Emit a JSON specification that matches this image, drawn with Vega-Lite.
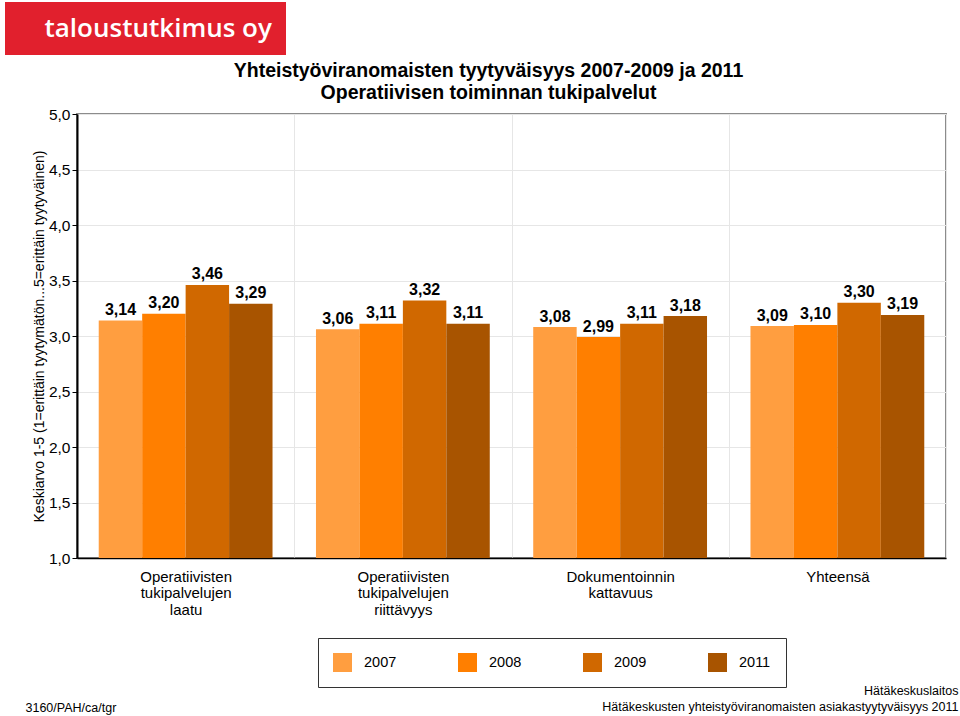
{
  "$schema": "https://vega.github.io/schema/vega-lite/v6.json",
  "background": "white",
  "padding": {"left": 5, "top": 2, "right": 2, "bottom": 2},
  "width": 869,
  "height": 444,
  "config": {
    "font": "Liberation Sans",
    "view": {"stroke": "#8c8c8c", "strokeWidth": 2},
    "locale": {"number": {"decimal": ",", "thousands": " ", "grouping": [3], "currency": ["", " €"]}}
  },
  "title": {
    "text": ["Yhteistyöviranomaisten tyytyväisyys 2007-2009 ja 2011", "Operatiivisen toiminnan tukipalvelut"],
    "fontSize": 19.5, "fontWeight": "bold", "color": "black", "anchor": "middle", "frame": "group", "dx": -23, "offset": -101, "lineHeight": 22
  },
  "data": {"values": [
    {"cat": "Operatiivisten|tukipalvelujen|laatu", "year": "2007", "value": 3.14},
    {"cat": "Operatiivisten|tukipalvelujen|laatu", "year": "2008", "value": 3.20},
    {"cat": "Operatiivisten|tukipalvelujen|laatu", "year": "2009", "value": 3.46},
    {"cat": "Operatiivisten|tukipalvelujen|laatu", "year": "2011", "value": 3.29},
    {"cat": "Operatiivisten|tukipalvelujen|riittävyys", "year": "2007", "value": 3.06},
    {"cat": "Operatiivisten|tukipalvelujen|riittävyys", "year": "2008", "value": 3.11},
    {"cat": "Operatiivisten|tukipalvelujen|riittävyys", "year": "2009", "value": 3.32},
    {"cat": "Operatiivisten|tukipalvelujen|riittävyys", "year": "2011", "value": 3.11},
    {"cat": "Dokumentoinnin|kattavuus", "year": "2007", "value": 3.08},
    {"cat": "Dokumentoinnin|kattavuus", "year": "2008", "value": 2.99},
    {"cat": "Dokumentoinnin|kattavuus", "year": "2009", "value": 3.11},
    {"cat": "Dokumentoinnin|kattavuus", "year": "2011", "value": 3.18},
    {"cat": "Yhteensä", "year": "2007", "value": 3.09},
    {"cat": "Yhteensä", "year": "2008", "value": 3.10},
    {"cat": "Yhteensä", "year": "2009", "value": 3.30},
    {"cat": "Yhteensä", "year": "2011", "value": 3.19}
  ]},
  "encoding": {
    "x": {
      "field": "cat", "type": "nominal", "sort": null,
      "scale": {"paddingInner": 0, "paddingOuter": 0},
      "axis": {
        "title": ["Hätäkeskuslaitos", "Hätäkeskusten yhteistyöviranomaisten asiakastyytyväisyys 2011"],
        "titleFontSize": 12.5, "titleFontWeight": "normal", "titleColor": "black",
        "titleAnchor": "end", "titleAlign": "right", "titleBaseline": "top", "titleLineHeight": 16,
        "titleX": 881, "titleY": 126,
        "labelAngle": 0, "ticks": false, "grid": true, "tickBand": "extent",
        "gridColor": "#e6e6e6", "gridWidth": 1,
        "domainColor": "black", "domainWidth": 1.5,
        "labelExpr": "split(datum.label, '|')",
        "labelFontSize": 15, "labelColor": "black", "labelPadding": 11, "labelLineHeight": 16.7,
        "labelBaseline": "top"
      }
    },
    "xOffset": {"field": "year", "type": "nominal", "scale": {"paddingInner": 0, "paddingOuter": 0.5}},
    "y": {
      "field": "value", "type": "quantitative",
      "scale": {"domain": [1, 5], "zero": false, "nice": false},
      "axis": {
        "title": "Keskiarvo 1-5 (1=erittäin tyytymätön...5=erittäin tyytyväinen)",
        "titleFontSize": 14, "titleFontWeight": "normal", "titleColor": "black", "titlePadding": 2,
        "values": [1, 1.5, 2, 2.5, 3, 3.5, 4, 4.5, 5],
        "format": ".1f",
        "labelFontSize": 15.5, "labelColor": "black", "labelPadding": 2,
        "tickColor": "black", "tickSize": 5, "tickWidth": 1,
        "domainColor": "black", "domainWidth": 2,
        "grid": true, "gridColor": "#e6e6e6", "gridWidth": 1
      }
    }
  },
  "layer": [
    {
      "mark": {"type": "bar"},
      "encoding": {
        "y2": {"datum": 1},
        "color": {
          "field": "year", "type": "nominal",
          "scale": {"domain": ["2007", "2008", "2009", "2011"], "range": ["#FF9E40", "#FF7F00", "#D06800", "#A85400"]},
          "legend": {
            "title": null, "orient": "none", "legendX": 241, "legendY": 524,
            "direction": "horizontal", "columns": 4,
            "symbolType": "square", "symbolSize": 361, "symbolStrokeWidth": 0,
            "labelFontSize": 14.5, "labelColor": "black", "labelOffset": 12,
            "columnPadding": 61, "padding": 15,
            "strokeColor": "#333333"
          }
        },
        "strokeDash": {
          "datum": "3160/PAH/ca/tgr", "type": "nominal",
          "scale": {"range": [[1, 0]]},
          "legend": {
            "title": null, "orient": "none", "legendX": -64, "legendY": 588,
            "symbolOpacity": 0, "symbolSize": 0, "symbolStrokeWidth": 0,
            "labelOffset": 0, "padding": 0, "labelFontSize": 12.5, "labelColor": "black", "labelLimit": 300
          }
        }
      }
    },
    {
      "mark": {"type": "text", "fontSize": 16, "fontWeight": "bold", "color": "black", "baseline": "alphabetic", "dy": -5.5},
      "encoding": {
        "text": {"field": "value", "type": "quantitative", "format": ".2f"},
        "stroke": {
          "datum": "taloustutkimus oy", "type": "nominal",
          "scale": {"range": ["transparent"]},
          "legend": {
            "title": null, "orient": "none", "legendX": -72, "legendY": -112,
            "fillColor": "#E1202D", "cornerRadius": 0, "padding": 13.5,
            "symbolOpacity": 0, "symbolSize": 0, "symbolStrokeWidth": 0,
            "labelOffset": 0, "labelFont": "Open Sans", "labelFontSize": 26, "labelFontWeight": 600,
            "labelColor": "white", "labelLimit": 400
          }
        }
      }
    }
  ]
}
